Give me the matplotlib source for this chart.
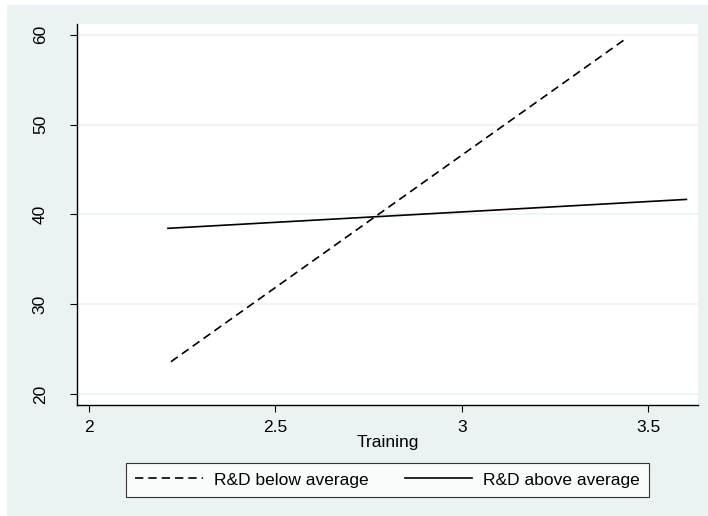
import matplotlib
matplotlib.use('Agg')
import matplotlib.pyplot as plt
from matplotlib.patches import Rectangle

# fitted lines: Training vs outcome, split by R&D level
below_x = [2.22, 3.445]
below_y = [23.6, 59.7]
above_x = [2.212, 3.603]
above_y = [38.45, 41.67]

x_ticks = [2, 2.5, 3, 3.5]
x_labels = ['2', '2.5', '3', '3.5']
y_ticks = [20, 30, 40, 50, 60]

BG = '#EAF2F3'
FS = 12.5

plt.rcParams['font.family'] = ['Liberation Sans', 'DejaVu Sans']
plt.rcParams['font.size'] = FS

fig = plt.figure(figsize=(7.08, 5.16), dpi=100)
fig.patch.set_facecolor('white')
fig.patches.append(Rectangle((7 / 708, -0.01), 1.0, 1.01 - 5 / 516,
                             transform=fig.transFigure, facecolor=BG,
                             edgecolor='none', zorder=-10))

ax = fig.add_axes([77 / 708, 1 - 405 / 516, 621 / 708, 381 / 516])
ax.set_facecolor('white')

ax.plot(below_x, below_y, color='black', lw=1.2, linestyle=(0, (5.0, 3.0)),
        label='R&D below average')
ax.plot(above_x, above_y, color='black', lw=1.2, label='R&D above average')

ax.set_xlim(1.968, 3.634)
ax.set_ylim(18.78, 61.2)
ax.set_xticks(x_ticks)
ax.set_xticklabels(x_labels)
ax.set_yticks(y_ticks)
ax.set_yticklabels([str(v) for v in y_ticks], rotation=90, va='center')
ax.tick_params(length=5, width=0.8, color='black', labelsize=FS)
ax.tick_params(axis='x', pad=6)
ax.tick_params(axis='y', pad=16)
ax.grid(True, axis='y', color=BG, lw=1.2)
ax.set_axisbelow(True)
for s in ['top', 'right']:
    ax.spines[s].set_visible(False)
for s in ['left', 'bottom']:
    ax.spines[s].set_linewidth(1.0)
ax.set_xlabel('Training', fontsize=FS, labelpad=0)

leg = fig.legend(loc='center', bbox_to_anchor=(387.5 / 708, 1 - 480 / 516),
                 ncol=2, frameon=True, fancybox=False, handlelength=3.9,
                 handletextpad=0.6, columnspacing=2.1, borderpad=0.55,
                 fontsize=FS)
leg.get_frame().set_edgecolor('black')
leg.get_frame().set_linewidth(0.8)

fig.savefig('out.png', dpi=100, facecolor=fig.get_facecolor())
